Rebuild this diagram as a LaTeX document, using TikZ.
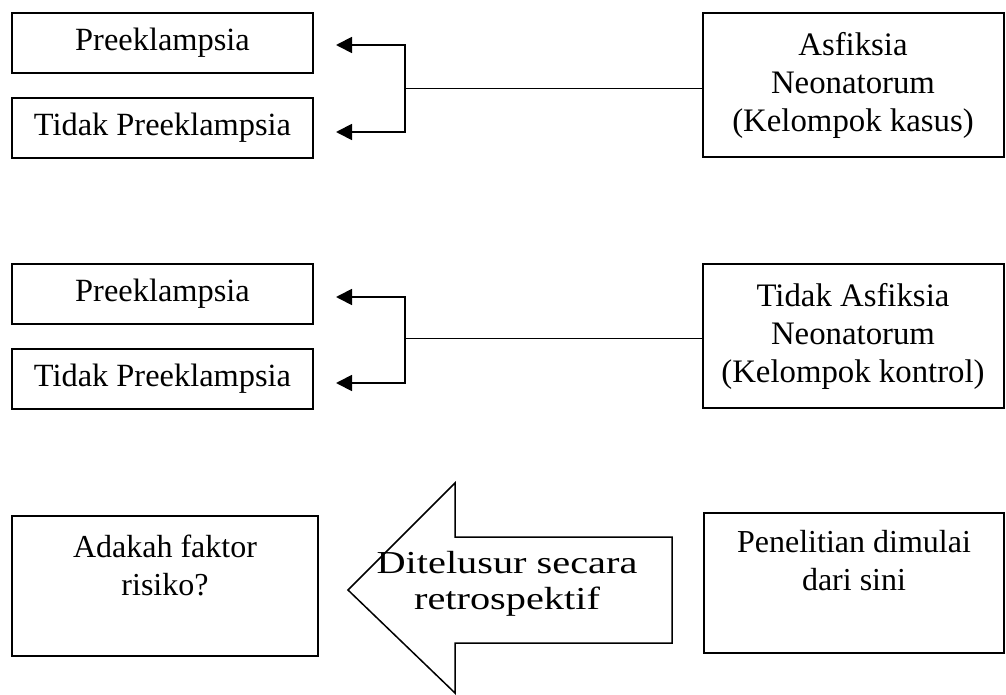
\documentclass[tikz,border=0pt]{standalone}
\usepackage{fontspec}
\setmainfont{Liberation Serif}
\usepackage{tikz}
\usetikzlibrary{arrows.meta,positioning}
\tikzset{
  choice box/.style={
    rectangle,
    draw=black,
    line width=1pt,
    minimum width=150.5pt,
    minimum height=30pt,
    font=\fontsize{16.2}{19}\selectfont,
    inner sep=2pt,
  },
  group box/.style={
    rectangle,
    draw=black,
    line width=1pt,
    minimum width=150.5pt,
    minimum height=72pt,
    align=center,
    font=\fontsize{16.4}{19}\selectfont,
    inner sep=2pt,
  },
  frame box/.style={
    rectangle,
    draw=black,
    line width=1pt,
    minimum width=150pt,
    minimum height=70pt,
    inner sep=0pt,
  },
  box text/.style={align=center, font=\fontsize{16}{19}\selectfont, inner sep=0pt},
  fork arrow/.style={-{Triangle[length=8pt,width=8pt]}, line width=0.9pt},
  fork line/.style={line width=0.5pt},
  trace arrow/.style={line width=0.75pt, line join=miter},
}
\newcommand{\widetext}[1]{\scalebox{1.26}[1]{#1}}
\begin{document}
\begin{tikzpicture}[x=0.5pt,y=-0.5pt,node distance=11.5pt and 11pt]
  \useasboundingbox (0,0) rectangle (1006,695);
  % kelompok kasus
  \node[choice box] (pre1) at (162.5,43) {Preeklampsia};
  \node[choice box,below=of pre1] (tdk1) {Tidak Preeklampsia};
  \node[group box] (kasus) at (853,85) {Asfiksia\\Neonatorum\\(Kelompok kasus)};
  \coordinate (fork1) at (405,89);
  \draw[fork line] (fork1) -- (fork1 -| kasus.west);
  \draw[fork arrow] (fork1) |- ([xshift=11pt,yshift=-1pt]pre1.east);
  \draw[fork arrow] (fork1) |- ([xshift=11pt,yshift=-2pt]tdk1.east);

  % kelompok kontrol
  \node[choice box] (pre2) at (162.5,294) {Preeklampsia};
  \node[choice box,below=of pre2] (tdk2) {Tidak Preeklampsia};
  \node[group box] (kontrol) at (853,336) {Tidak Asfiksia\\Neonatorum\\(Kelompok kontrol)};
  \coordinate (fork2) at (405,338);
  \draw[fork line] (fork2) -- (fork2 -| kontrol.west);
  \draw[fork arrow] (fork2) |- ([xshift=11pt,yshift=-1.5pt]pre2.east);
  \draw[fork arrow] (fork2) |- ([xshift=11pt,yshift=-2pt]tdk2.east);

  % arah penelitian
  \node[frame box,minimum width=153pt] (faktor) at (165,585.5) {};
  \node[box text,below=10pt of faktor.north] (faktortxt) {Adakah faktor\\risiko?};
  \node[frame box] (mulai) at (854,583) {};
  \node[box text,below=9pt of mulai.north] (mulaitxt) {Penelitian dimulai\\dari sini};
  \draw[trace arrow] (672,537) -- (455,537) -- (455,483) -- (348,590)
    -- (455,693) -- (455,643) -- (672,643) -- cycle;
  \node[box text,font=\fontsize{16}{18}\selectfont] (trace) at (507,584)
    {\widetext{Ditelusur secara}\\\widetext{retrospektif}};
\end{tikzpicture}
\end{document}
